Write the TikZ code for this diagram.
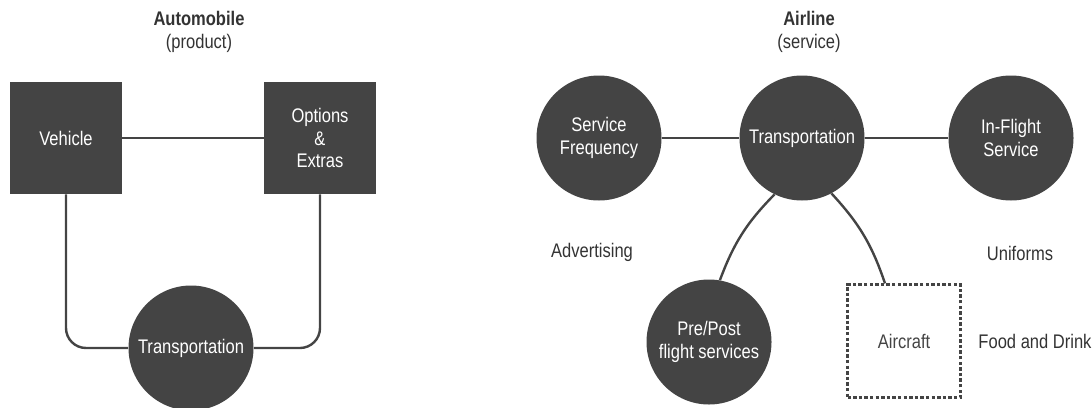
\documentclass[tikz,border=0pt]{standalone}
\usepackage{fontspec}
\setmainfont[FakeStretch=0.84]{Liberation Sans}
\usetikzlibrary{calc}
\newcommand*{\boxsz }{28mm}
\newcommand*{\circsz}{31.25mm}
\newcommand*{\lnw   }{0.6mm}
\definecolor{dgray}{RGB}{68,68,68}

\begin{document}
\begin{tikzpicture}[x=0.25mm, y=-0.25mm, font=\fontsize{14}{15.8}\selectfont,
        blk/.style={fill=dgray, draw=none, text=white, align=center, inner sep=0pt},
        sqr/.style={blk, rectangle, minimum size=\boxsz},
        crc/.style={blk, circle, minimum size=\circsz},
        lbl/.style={text=black!80, align=center},
        lnk/.style={draw=dgray, line width=\lnw},
        dotbox/.style={draw=dgray, line width=0.55mm, dash pattern=on 0.85mm off 0.55mm, minimum size=28.25mm, text=dgray, inner sep=0pt}]
    \useasboundingbox (0,0) rectangle (1092,407);
    % automobile
        \node [lbl] (autot) at (199,32) {\textbf{Automobile}\\(product)};
        \node [sqr] (veh) at ( 66,138) {Vehicle};
        \node [sqr] (opt) at (320,138) {Options\\\&\\Extras};
        \node [crc] (trl) at (191,348) {Transportation};
        \draw [lnk] (veh) -- (opt);
        \draw [lnk, rounded corners=5mm] (veh.south) |- (trl.west);
        \draw [lnk, rounded corners=5mm] (opt.south) |- (trl.east);
    % airline
        \node [lbl] (airt) at (809,32) {\textbf{Airline}\\(service)};
        \node [crc] (sfq) at ( 599,138) {Service\\Frequency};
        \node [crc] (trr) at ( 802,138) {Transportation};
        \node [crc] (ifs) at (1011,138) {In-Flight\\Service};
        \node [crc] (pps) at ( 709,342) {Pre/Post\\flight services};
        \node [dotbox] (acr) at (904,341) {Aircraft};
        \node [lbl] (adv) at ( 592,252) {Advertising};
        \node [lbl] (unf) at (1020,253) {Uniforms};
        \node [lbl] (fad) at (1035,341) {Food and Drink};
        \draw [lnk] (sfq) -- (trr) -- (ifs);
        \draw [lnk] (trr.244) to [bend right=12] (pps.80);
        \draw [lnk] (trr.298) to [bend left=12] ($(acr.north)+(-19,0)$);
\end{tikzpicture}
\end{document}
